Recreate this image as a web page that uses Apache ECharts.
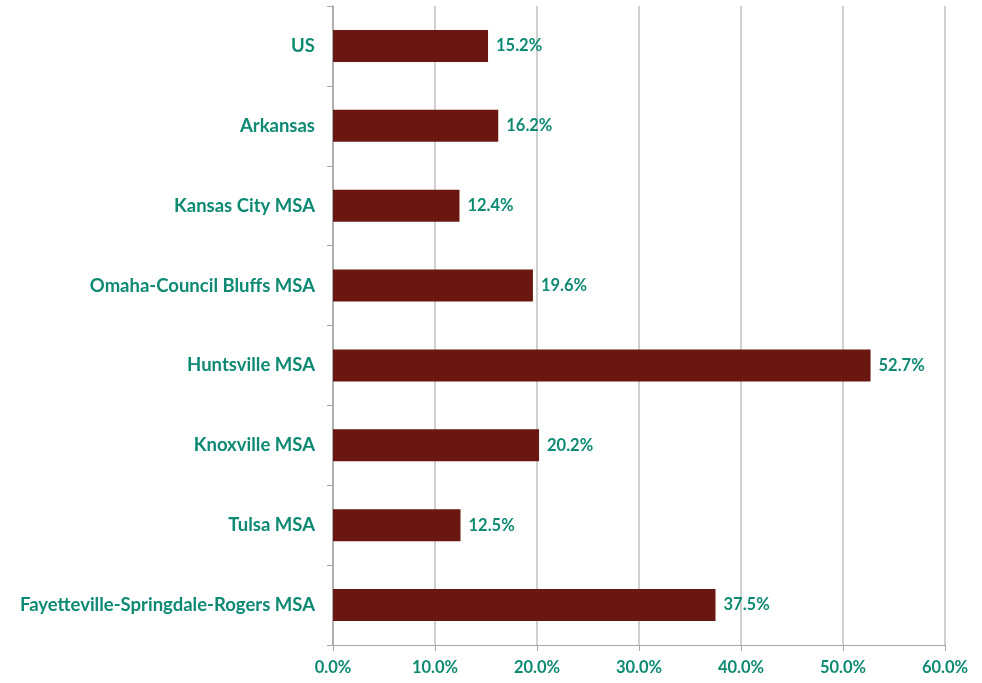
<!DOCTYPE html>
<html lang="en">
<head>
<meta charset="UTF-8">
<title>Bar chart</title>
<script src="https://cdn.jsdelivr.net/npm/echarts@6/dist/echarts.min.js"></script>
<style>
  html, body { margin: 0; padding: 0; background: #fff; }
  #main { width: 982px; height: 683px; }
</style>
</head>
<body>
<div id="main"></div>
<script>
// data
var categories = ['US', 'Arkansas', 'Kansas City MSA', 'Omaha-Council Bluffs MSA',
    'Huntsville MSA', 'Knoxville MSA', 'Tulsa MSA', 'Fayetteville-Springdale-Rogers MSA'];
var values = [15.2, 16.2, 12.4, 19.6, 52.7, 20.2, 12.5, 37.5];

var teal = '#0e8a74';
var font = 'Lato, "Open Sans", sans-serif';

var myChart = echarts.init(document.getElementById('main'));
var option = {
    animation: false,
    grid: {
        left: 333,
        right: 37,
        top: 6,
        bottom: 38
    },
    xAxis: {
        type: 'value',
        min: 0,
        max: 60,
        interval: 10,
        axisLine: { show: true, lineStyle: { color: '#a6a6a6', width: 1 } },
        axisTick: { show: true, inside: false, length: 6, lineStyle: { color: '#a6a6a6' } },
        splitLine: { show: true, lineStyle: { color: '#bfbfbf', width: 1.5 } },
        axisLabel: {
            color: teal,
            fontFamily: font,
            fontWeight: 'bold',
            fontSize: 16.5,
            margin: 14,
            formatter: function (v) { return v.toFixed(1) + '%'; }
        }
    },
    yAxis: {
        type: 'category',
        data: categories,
        inverse: true,
        axisLine: { show: true, lineStyle: { color: '#a6a6a6', width: 1.5 } },
        axisTick: { show: true, length: 6, lineStyle: { color: '#a6a6a6' } },
        axisLabel: {
            color: teal,
            fontFamily: font,
            fontWeight: 'bold',
            fontSize: 18.5,
            margin: 18
        }
    },
    series: [{
        type: 'bar',
        data: values,
        barWidth: 32,
        itemStyle: { color: '#6b1711' },
        label: {
            show: true,
            position: 'right',
            distance: 8,
            color: teal,
            fontFamily: font,
            fontWeight: 'bold',
            fontSize: 16.5,
            formatter: function (p) { return p.value.toFixed(1) + '%'; }
        }
    }]
};
myChart.setOption(option);
</script>
</body>
</html>
